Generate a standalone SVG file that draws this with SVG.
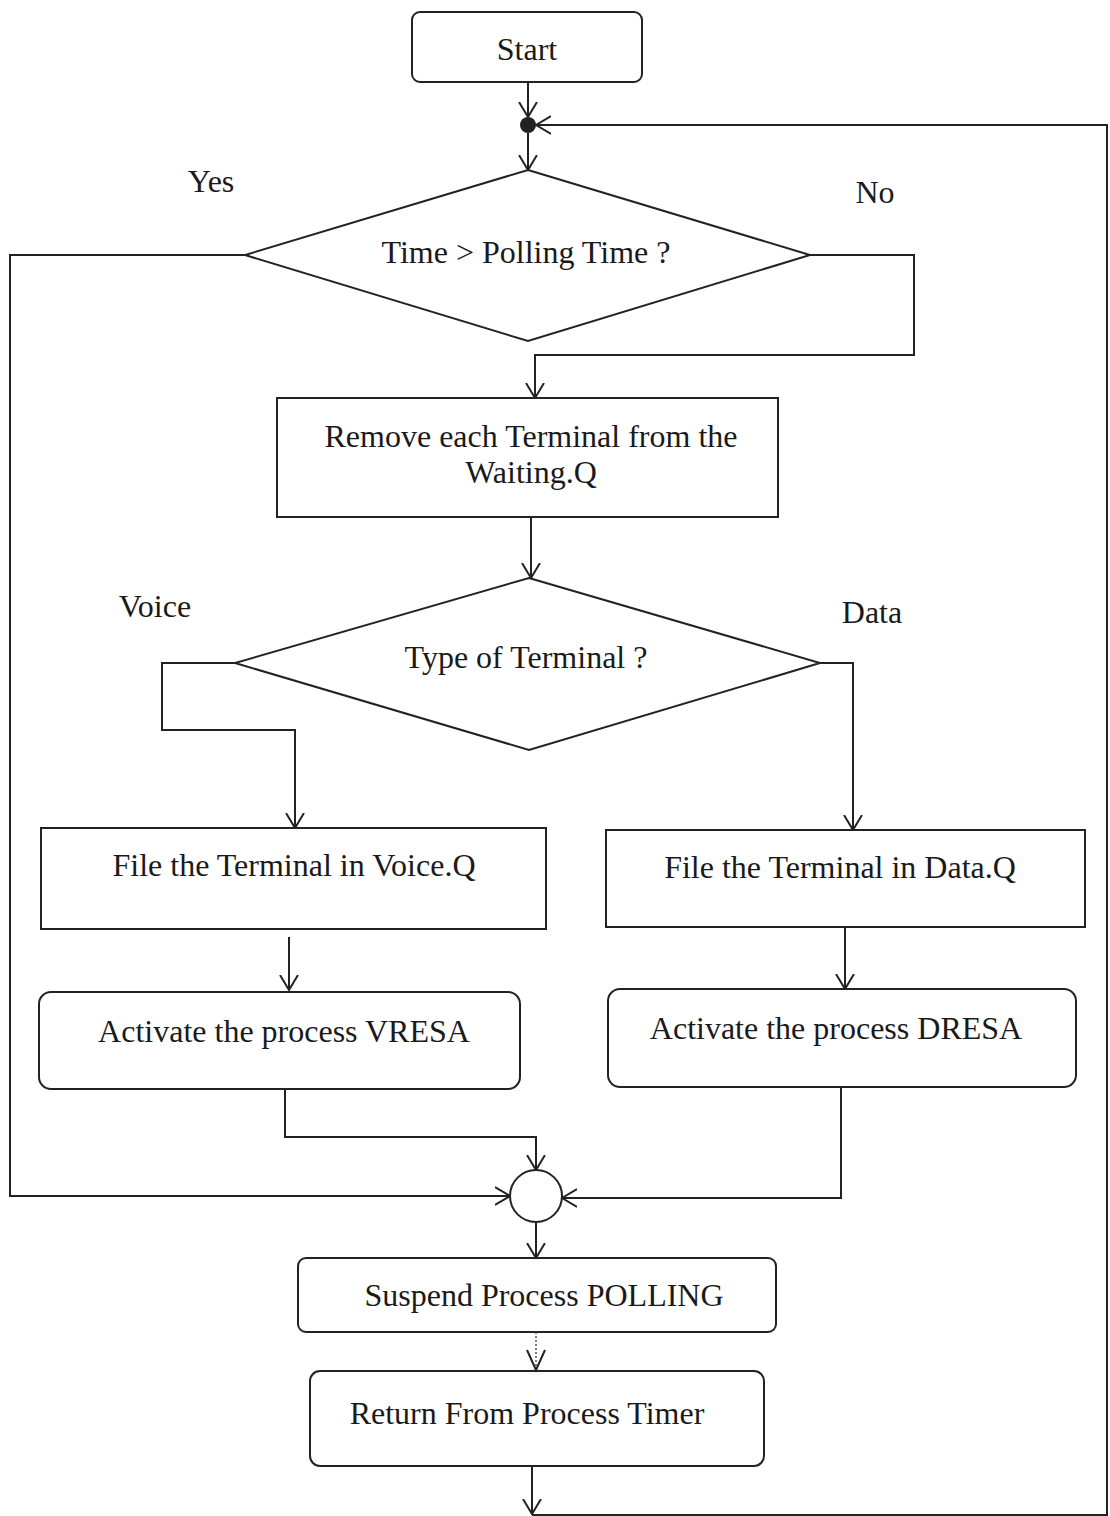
<svg xmlns="http://www.w3.org/2000/svg" width="1110" height="1516" viewBox="0 0 1110 1516">
  <style>
    .box { fill: #fff; stroke: #222; stroke-width: 2; }
    .lbl { font-family: "Liberation Serif", "Times New Roman", serif; font-size: 32px; fill: #1a1a1a; text-anchor: middle; dominant-baseline: central; }
    .wire { fill: none; stroke: #222; stroke-width: 2; }
    .dots { fill: none; stroke: #555; stroke-width: 1.5; stroke-dasharray: 2 2; }
  </style>
  <defs>
    <marker id="arrow" markerWidth="16" markerHeight="20" refX="15" refY="10" orient="auto" markerUnits="userSpaceOnUse">
      <path d="M0,1 L15,10 L0,19" fill="none" stroke="#222" stroke-width="2"/>
    </marker>
  </defs>
  <rect width="1110" height="1516" fill="#fff"/>

  <g id="start">
    <rect class="box" x="412" y="12" width="230" height="70" rx="8"/>
    <text class="lbl" x="527" y="49">Start</text>
  </g>

  <g id="junction-top">
    <circle cx="528" cy="125" r="8" fill="#222"/>
  </g>

  <g id="decision-time">
    <polygon class="box" points="528,170 810,255 528,341 245,255"/>
    <text class="lbl" x="526" y="252">Time &gt; Polling Time ?</text>
  </g>

  <g id="remove-terminal">
    <rect class="box" x="277" y="398" width="501" height="119"/>
    <text class="lbl" x="531" y="436">Remove each Terminal from the</text>
    <text class="lbl" x="531" y="472">Waiting.Q</text>
  </g>

  <g id="decision-type">
    <polygon class="box" points="529,578 820,663 529,750 235,663"/>
    <text class="lbl" x="526" y="657">Type of Terminal ?</text>
  </g>

  <g id="file-voice">
    <rect class="box" x="41" y="828" width="505" height="101"/>
    <text class="lbl" x="294" y="865">File the Terminal in Voice.Q</text>
  </g>

  <g id="file-data">
    <rect class="box" x="606" y="830" width="479" height="97"/>
    <text class="lbl" x="840" y="867">File the Terminal in Data.Q</text>
  </g>

  <g id="activate-vresa">
    <rect class="box" x="39" y="992" width="481" height="97" rx="12"/>
    <text class="lbl" x="284" y="1031">Activate the process VRESA</text>
  </g>

  <g id="activate-dresa">
    <rect class="box" x="608" y="989" width="468" height="98" rx="12"/>
    <text class="lbl" x="836" y="1028">Activate the process DRESA</text>
  </g>

  <g id="merge">
    <circle class="box" cx="536" cy="1196" r="26"/>
  </g>

  <g id="suspend">
    <rect class="box" x="298" y="1258" width="478" height="74" rx="8"/>
    <text class="lbl" x="544" y="1295">Suspend Process POLLING</text>
  </g>

  <g id="return-timer">
    <rect class="box" x="310" y="1371" width="454" height="95" rx="10"/>
    <text class="lbl" x="527" y="1413">Return From Process Timer</text>
  </g>

  <g id="labels">
    <text class="lbl" x="211" y="181">Yes</text>
    <text class="lbl" x="875" y="192">No</text>
    <text class="lbl" x="155" y="606">Voice</text>
    <text class="lbl" x="872" y="612">Data</text>
  </g>

  <g id="connectors">
    <!-- start to junction -->
    <path class="wire" d="M528,82 V117" marker-end="url(#arrow)"/>
    <!-- loop back from the bottom into the junction -->
    <path class="wire" d="M532,1515 H1107 V125 H536" marker-end="url(#arrow)"/>
    <!-- junction to first decision -->
    <path class="wire" d="M528,133 V170" marker-end="url(#arrow)"/>
    <!-- Yes: around the left side to the merge -->
    <path class="wire" d="M245,255 H10 V1196 H510" marker-end="url(#arrow)"/>
    <!-- No: to the remove box -->
    <path class="wire" d="M810,255 H914 V355 H535 V398" marker-end="url(#arrow)"/>
    <!-- remove box to type decision -->
    <path class="wire" d="M531,517 V578" marker-end="url(#arrow)"/>
    <!-- Voice branch -->
    <path class="wire" d="M235,663 H162 V730 H295 V828" marker-end="url(#arrow)"/>
    <!-- Data branch -->
    <path class="wire" d="M820,663 H853 V830" marker-end="url(#arrow)"/>
    <!-- file boxes to activate boxes -->
    <path class="wire" d="M289,937 V990" marker-end="url(#arrow)"/>
    <path class="wire" d="M845,927 V989" marker-end="url(#arrow)"/>
    <!-- activate boxes to merge -->
    <path class="wire" d="M285,1089 V1137 H536 V1170" marker-end="url(#arrow)"/>
    <path class="wire" d="M841,1087 V1198 H562" marker-end="url(#arrow)"/>
    <!-- merge to suspend -->
    <path class="wire" d="M536,1222 V1258" marker-end="url(#arrow)"/>
    <!-- suspend to return (dotted) -->
    <path class="dots" d="M536,1332 V1368"/>
    <path d="M527,1350 L536,1370 L545,1350" fill="none" stroke="#222" stroke-width="2"/>
    <!-- return to loop -->
    <path class="wire" d="M532,1466 V1514" marker-end="url(#arrow)"/>
  </g>
</svg>
